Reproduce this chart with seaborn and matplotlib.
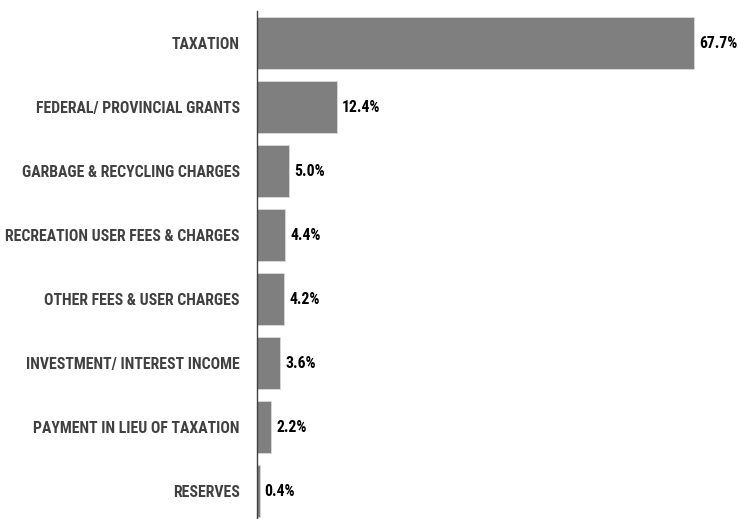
import pandas as pd
import matplotlib
matplotlib.use("Agg")
import matplotlib.pyplot as plt
from matplotlib import font_manager
import seaborn as sns

categories = [
    "TAXATION",
    "FEDERAL/ PROVINCIAL GRANTS",
    "GARBAGE & RECYCLING CHARGES",
    "RECREATION USER FEES & CHARGES",
    "OTHER FEES & USER CHARGES",
    "INVESTMENT/ INTEREST INCOME",
    "PAYMENT IN LIEU OF TAXATION",
    "RESERVES",
]
shares = [67.7, 12.4, 5.0, 4.4, 4.2, 3.6, 2.2, 0.4]

sns.set_style("white")

# look for a narrow font, the original uses a condensed one
names = {f.name for f in font_manager.fontManager.ttflist}
family = "DejaVu Sans"
stretch = "normal"
for cand in ["Liberation Sans Narrow", "Roboto Condensed", "Open Sans Condensed", "Noto Sans Condensed"]:
    if cand in names:
        family = cand
        break
else:
    for f in font_manager.fontManager.ttflist:
        if f.name in ("DejaVu Sans", "Noto Sans", "Open Sans") and str(f.stretch) in ("condensed", "semi-condensed", "75", "87.5"):
            family = f.name
            stretch = "condensed"
            break
plt.rcParams["font.family"] = [family, "DejaVu Sans"]

df = pd.DataFrame({"source": categories, "share": shares})

fig = plt.figure(figsize=(7.38, 5.19), dpi=100)
ax = fig.add_axes([257 / 738, 1 - 523 / 519, 481 / 738, 512 / 519])

sns.barplot(data=df, x="share", y="source", orient="h", color="#7f7f7f",
            saturation=1, width=0.81, edgecolor="#d9d9d9", linewidth=0.6, ax=ax)

ax.set_xlim(0, 481 / 6.45)
ax.set_ylim(7.5, -0.5)

ax.set_xlabel("")
ax.set_ylabel("")
ax.set_xticks([])
ax.tick_params(axis="y", length=0, pad=12.5)

# pick font size so the longest label is about as wide as in the original
renderer = fig.canvas.get_renderer()
probe = fig.text(0, 0, "RECREATION USER FEES & CHARGES", fontsize=10,
                 fontweight="bold", fontstretch=stretch)
w = probe.get_window_extent(renderer).width
probe.remove()
fs = min(12, 10 * 233 / w)

for lab in ax.get_yticklabels():
    lab.set_fontweight("bold")
    lab.set_fontsize(fs)
    lab.set_fontstretch(stretch)
    lab.set_color("#404040")

for i, v in enumerate(shares):
    ax.text(v + 0.8, i, f"{v:.1f}%", va="center", ha="left", clip_on=False,
            fontsize=fs, fontweight="bold", fontstretch=stretch, color="black")

sns.despine(ax=ax, top=True, right=True, bottom=True)
ax.spines["left"].set_color("#404040")
ax.spines["left"].set_linewidth(1.0)

fig.savefig("out.png", dpi=100)
